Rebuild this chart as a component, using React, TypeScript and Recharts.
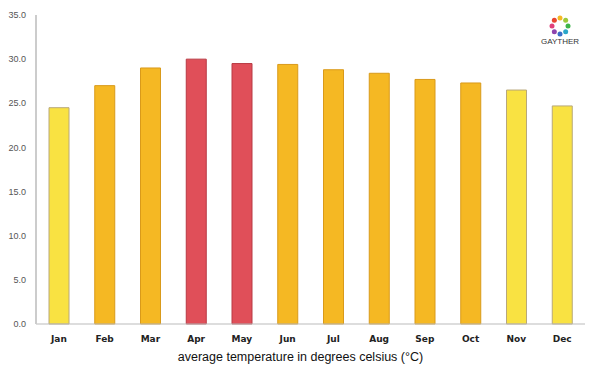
import React from 'react';
import { BarChart, Bar, XAxis, YAxis, Cell } from 'recharts';

const months = ['Jan', 'Feb', 'Mar', 'Apr', 'May', 'Jun', 'Jul', 'Aug', 'Sep', 'Oct', 'Nov', 'Dec'];
const temps = [24.5, 27.0, 29.0, 30.0, 29.5, 29.4, 28.8, 28.4, 27.7, 27.3, 26.5, 24.7];
const levels = ['mild', 'warm', 'warm', 'hot', 'hot', 'warm', 'warm', 'warm', 'warm', 'warm', 'mild', 'mild'];
const yTicks = [0, 5, 10, 15, 20, 25, 30, 35];
const title = 'average temperature in degrees celsius (°C)';

const fills: Record<string, string> = { mild: '#F9E242', warm: '#F5B823', hot: '#E04F59' };
const strokes: Record<string, string> = { mild: '#B8A87A', warm: '#D99A1A', hot: '#B83A44' };

const data = months.map((m, i) => ({ month: m, temp: temps[i], level: levels[i] }));

const logoColors = ['#F5B823', '#9BC93A', '#3DB44A', '#2AA7C9', '#3A6FC9', '#8E44AD', '#E0407A', '#E8452E'];

const Logo = () => (
  <svg width={50} height={44} style={{ position: 'absolute', left: 535, top: 8 }}>
    {logoColors.map((c, i) => {
      const a = (i / logoColors.length) * Math.PI * 2 - Math.PI / 2;
      return <circle key={i} cx={25 + 8 * Math.cos(a)} cy={18 + 8 * Math.sin(a)} r={2.5} fill={c} />;
    })}
    <text x={25} y={36} textAnchor="middle" fontSize={8} fontFamily="Liberation Sans, Arial, sans-serif" fill="#333">GAYTHER</text>
  </svg>
);

export default function App() {
  return (
    <div style={{ position: 'absolute', left: 0, top: 0, width: 600, height: 375, background: '#fff' }}>
      <BarChart width={600} height={375} data={data} margin={{ top: 15, right: 15, left: 0, bottom: 6 }}>
        <XAxis
          dataKey="month"
          stroke="#bbb"
          tickLine={false}
          height={45}
          tick={{ fill: '#222', fontSize: 9, fontWeight: 600, fontFamily: 'DejaVu Sans, sans-serif' }}
          tickMargin={6}
          label={{ value: title, position: 'insideBottom', offset: 8, dx: -10, fill: '#111', fontSize: 12.5, fontFamily: 'Liberation Sans, Arial, sans-serif' }}
        />
        <YAxis
          width={36}
          domain={[0, 35]}
          ticks={yTicks}
          tickFormatter={(v: number) => v.toFixed(1)}
          stroke="#ccc"
          strokeWidth={2}
          tickLine={false}
          tick={{ fill: '#555', fontSize: 9, fontFamily: 'Liberation Sans, Arial, sans-serif' }}
          tickMargin={4}
          interval={0}
        />
        <Bar dataKey="temp" barSize={20} isAnimationActive={false}>
          {data.map((d, i) => (
            <Cell key={i} fill={fills[d.level]} stroke={strokes[d.level]} strokeWidth={1} />
          ))}
        </Bar>
      </BarChart>
      <Logo />
    </div>
  );
}
